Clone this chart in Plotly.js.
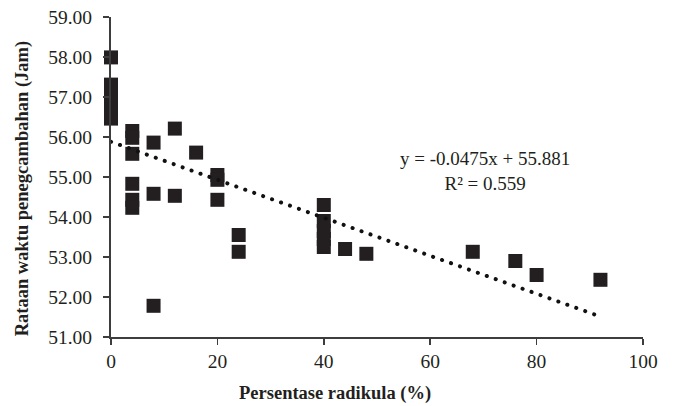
<!DOCTYPE html>
<html>
<head>
<meta charset="utf-8">
<script src="https://cdn.plot.ly/plotly-3.0.1.min.js"></script>
<style>html,body{margin:0;padding:0;background:#fff;}#chart{width:675px;height:406px;}</style>
</head>
<body>
<div id="chart"></div>
<script>
// Data
const radikula = [0, 0, 0, 0, 0, 0, 0,
  4, 4, 4, 4, 4, 4,
  8, 8, 8,
  12, 12,
  16,
  20, 20, 20,
  24, 24,
  40, 40, 40, 40, 40,
  44, 48, 68, 76, 80, 92];
const waktu = [57.99, 57.31, 57.10, 56.90, 56.70, 56.55, 56.46,
  56.15, 55.98, 55.58, 54.83, 54.43, 54.23,
  55.86, 54.58, 51.78,
  56.21, 54.53,
  55.61,
  55.05, 54.93, 54.43,
  53.55, 53.13,
  54.30, 53.90, 53.65, 53.45, 53.25,
  53.20, 53.08, 53.13, 52.90, 52.55, 52.43];
const trendSlope = -0.0475;
const trendIntercept = 55.881;
const trendX = [0, 92];
const trendY = trendX.map(x => trendSlope * x + trendIntercept);
const yTicks = [51, 52, 53, 54, 55, 56, 57, 58, 59];
const yTickText = yTicks.map(v => v.toFixed(2));
const xTicks = [0, 20, 40, 60, 80, 100];
const eqText = 'y = -0.0475x + 55.881<br>R² = 0.559';

const font = {family: '"Liberation Serif", "Times New Roman", serif', color: '#231f20'};
const axisColor = '#3d3d3d';

const traces = [
  {
    x: radikula, y: waktu, type: 'scatter', mode: 'markers', cliponaxis: false,
    marker: {symbol: 'square', size: 14, color: '#231f20', line: {width: 0}},
    hoverinfo: 'x+y', showlegend: false
  },
  {
    x: trendX, y: trendY, type: 'scatter', mode: 'lines',
    line: {color: '#111111', width: 4, dash: '0.1px,9.4px'},
    hoverinfo: 'skip', showlegend: false
  }
];

const layout = {
  width: 675, height: 406,
  margin: {l: 111, r: 32, t: 17, b: 69},
  paper_bgcolor: '#fff', plot_bgcolor: '#fff',
  font: Object.assign({size: 19}, font),
  showlegend: false,
  xaxis: {
    range: [0, 100], tickvals: xTicks, ticktext: xTicks.map(String),
    showgrid: false, zeroline: false, showline: true, linecolor: axisColor, linewidth: 2,
    ticks: 'outside', ticklen: 6, tickwidth: 1.5, tickcolor: axisColor,
    tickfont: Object.assign({size: 19.5}, font), fixedrange: true
  },
  yaxis: {
    range: [51, 59], tickvals: yTicks, ticktext: yTickText,
    showgrid: false, zeroline: false, showline: true, linecolor: axisColor, linewidth: 2,
    ticks: 'outside', ticklen: 6, tickwidth: 1.5, tickcolor: axisColor,
    tickfont: Object.assign({size: 19.5}, font), ticklabelstandoff: 7, fixedrange: true
  },
  annotations: [
    {
      text: '<b>Persentase radikula (%)</b>', xref: 'paper', yref: 'paper',
      x: 0.421, y: -0.175, xanchor: 'center', yanchor: 'middle', showarrow: false,
      font: Object.assign({size: 18.5}, font)
    },
    {
      text: '<b>Rataan waktu penegcambahan (Jam)</b>', xref: 'paper', yref: 'paper',
      x: -0.167, y: 0.465, xanchor: 'center', yanchor: 'middle', textangle: -90, showarrow: false,
      font: Object.assign({size: 18.5}, font)
    },
    {
      text: eqText, xref: 'x', yref: 'y', x: 70.3, y: 55.14,
      xanchor: 'center', yanchor: 'middle', showarrow: false, align: 'center',
      font: Object.assign({size: 19}, font)
    }
  ]
};

Plotly.newPlot('chart', traces, layout, {displayModeBar: false, staticPlot: true}).then(function () {
  document.querySelectorAll('.scatterlayer .trace:nth-child(2) path.js-line').forEach(function (p) {
    p.style.strokeLinecap = 'round';
  });
});
</script>
</body>
</html>
